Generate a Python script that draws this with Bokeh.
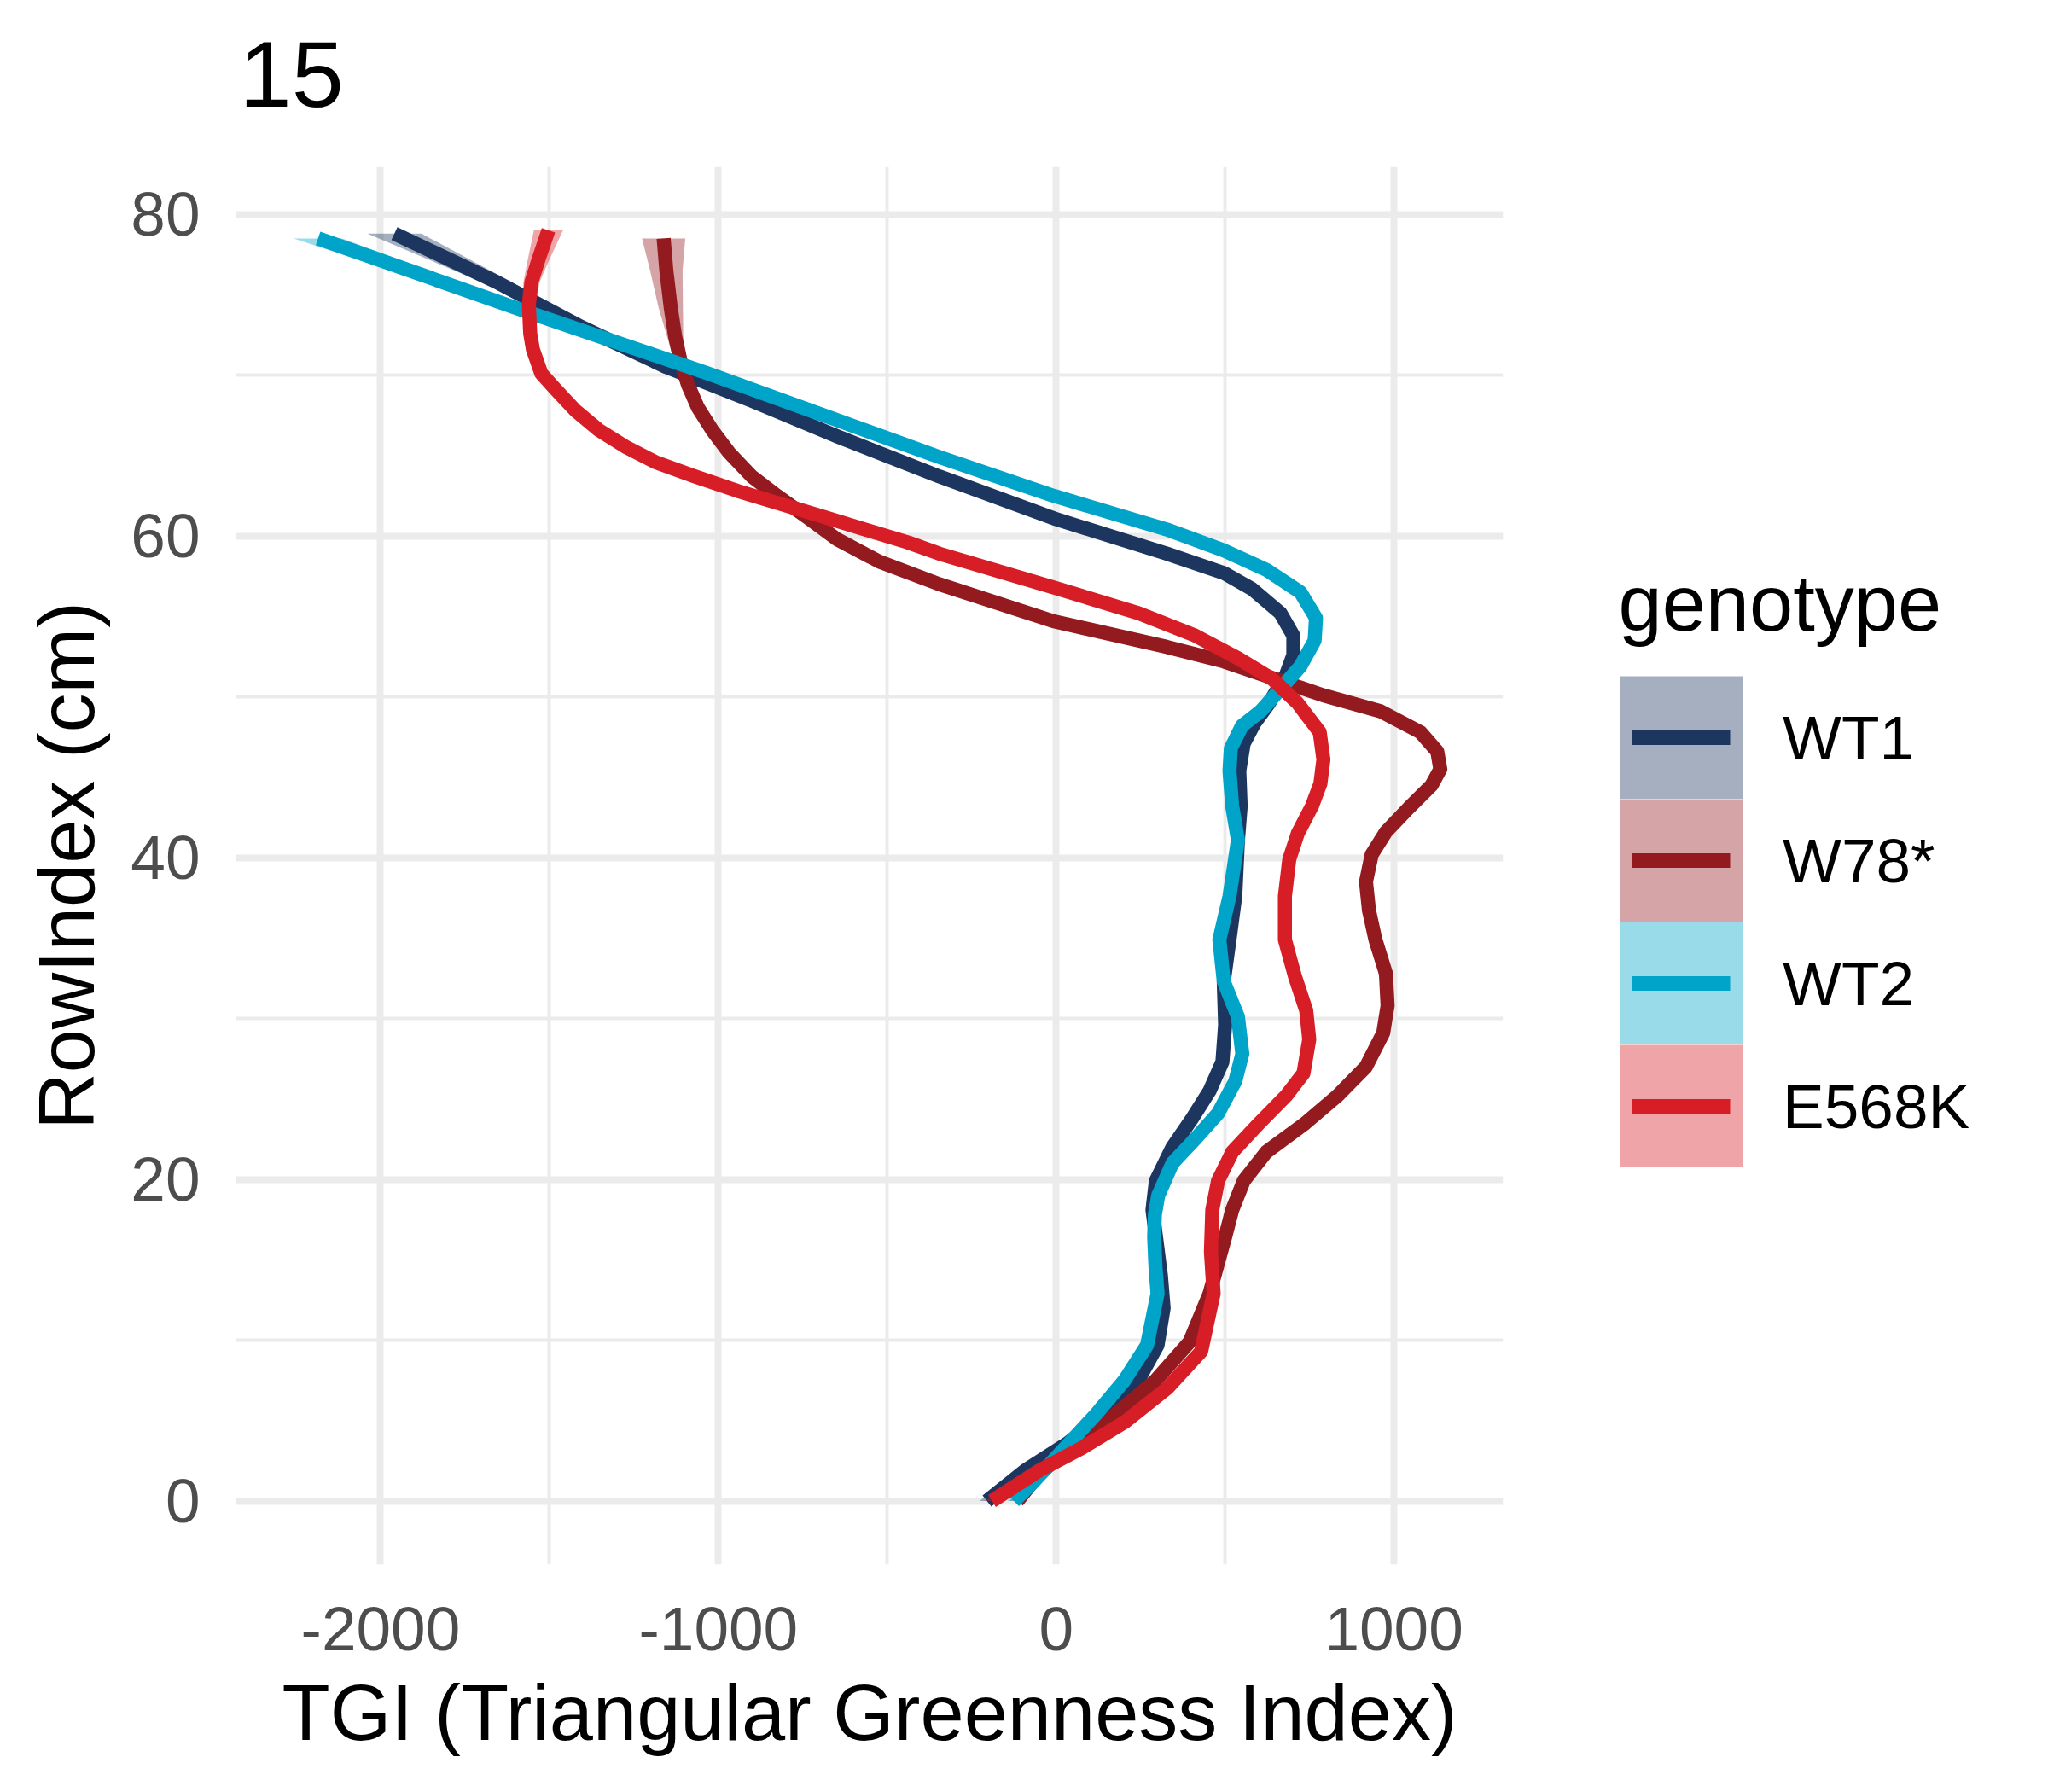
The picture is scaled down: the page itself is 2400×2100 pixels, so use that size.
from bokeh.plotting import figure
from bokeh.layouts import column, row
from bokeh.models import FixedTicker, Legend, LegendItem, Label, Range1d
from bokeh.embed import file_html
from bokeh.resources import INLINE

FONT = "Liberation Sans"

genotypes = ["WT1", "W78*", "WT2", "E568K"]
line_colors = ["#1C365F", "#931B20", "#00A4C9", "#D71E26"]
key_fills = ["#A5AFBF", "#D4A4A6", "#99DBE9", "#EFA5A8"]

# smoothed TGI per RowIndex (cm)
wt1_y = [0, 1.9, 3.6, 5.4, 7.2, 9.7, 12.0, 14.0, 16.0, 18.1, 19.9, 22.0, 23.8,
         25.5, 27.3, 29.6, 32.3, 34.9, 37.6, 41.1, 43.2, 45.4, 47.1, 48.4, 49.6,
         51.4, 52.6, 53.8, 55.2, 56.7, 57.7, 58.9, 61.1, 63.7, 66.2, 68.4, 70.5,
         73.0, 75.8, 78.8]
wt1_x = [-205, -92, 34, 143, 235, 300, 318, 310, 298, 285, 295, 344, 403,
         454, 492, 500, 496, 513, 530, 538, 546, 542, 555, 588, 630,
         681, 702, 702, 664, 580, 496, 328, -8, -346, -649, -901, -1154,
         -1406, -1658, -1959]
wt1_se = [22, 16, 12, 10, 9, 9, 9, 9, 9, 9, 9, 9, 9,
          9, 9, 9, 9, 9, 9, 9, 9, 9, 9, 9, 9,
          9, 9, 9, 9, 9, 9, 9, 10, 11, 12, 14, 17,
          26, 45, 80]

w78_y = [0, 1.7, 3.6, 5.4, 7.5, 9.9, 12.9, 16.4, 18.1, 19.9, 21.7, 23.4, 25.2,
         27.0, 29.1, 30.8, 32.8, 34.9, 36.7, 38.5, 40.2, 41.6, 43.1, 44.5, 45.5,
         46.6, 47.8, 49.1, 50.1, 51.0, 52.2, 53.1, 54.7, 57.0, 58.4, 59.8, 61.1,
         62.5, 63.7, 65.2, 66.6, 68.0, 69.4, 70.8, 72.4, 74.2, 76.5, 78.5]
w78_x = [-115, -50, 59, 176, 294, 395, 454, 500, 521, 555, 622, 732, 833,
         917, 968, 981, 976, 945, 926, 917, 934, 976, 1044, 1111, 1137,
         1128, 1078, 960, 790, 664, 496, 328, -8, -346, -523, -649, -733,
         -826, -901, -969, -1019, -1061, -1090, -1111, -1128, -1141, -1154, -1162]
w78_se = [22, 16, 12, 10, 9, 9, 9, 9, 9, 9, 9, 9, 9,
          9, 9, 9, 9, 9, 9, 9, 9, 9, 9, 9, 9,
          9, 9, 9, 9, 9, 9, 9, 9, 9, 9, 9, 9,
          10, 11, 12, 13, 14, 15, 18, 24, 36, 48, 64]

wt2_y = [0, 1.2, 3.1, 5.4, 7.5, 9.7, 12.9, 14.5, 16.4, 17.8, 19.0, 21.0, 22.5,
         24.1, 26.1, 27.8, 30.1, 32.3, 34.9, 37.6, 41.1, 43.2, 45.4, 46.8, 48.2,
         49.1, 50.5, 51.9, 53.5, 54.9, 56.5, 57.9, 59.1, 60.4, 62.5, 64.9, 70.1,
         74.0, 78.5]
wt2_x = [-125, -67, 17, 118, 202, 269, 300, 294, 290, 292, 302, 344, 411,
         479, 530, 551, 538, 496, 483, 513, 538, 521, 513, 517, 550,
         605, 664, 723, 765, 769, 723, 622, 496, 328, -8, -345, -1030,
         -1575, -2185]
wt2_se = [20, 16, 12, 10, 9, 9, 9, 9, 9, 9, 9, 9, 9,
          9, 9, 9, 9, 9, 9, 9, 9, 9, 9, 9, 9,
          9, 9, 9, 9, 9, 9, 9, 10, 11, 12, 14, 18,
          35, 72]

e568k_y = [0, 1.9, 3.3, 4.9, 7.0, 9.3, 12.9, 15.5, 18.1, 19.9, 21.7, 23.4, 25.2,
           26.6, 28.7, 30.5, 32.6, 34.9, 37.6, 39.9, 41.5, 43.2, 44.6, 46.1, 47.8,
           49.6, 51.1, 52.4, 53.8, 55.2, 56.8, 58.9, 59.6, 60.4, 61.2, 62.0, 62.8,
           63.7, 64.6, 65.5, 66.6, 67.8, 69.1, 70.1, 71.6, 72.6, 74.4, 75.8, 77.2, 79.0]
e568k_x = [-190, -50, 76, 202, 328, 429, 466, 458, 462, 479, 521, 597, 681,
           732, 749, 740, 707, 677, 677, 690, 715, 757, 782, 791, 780,
           715, 640, 538, 412, 244, -8, -346, -439, -565, -691, -817, -943,
           -1069, -1187, -1271, -1355, -1423, -1481, -1524, -1549, -1557, -1561, -1553, -1532, -1503]
e568k_se = [22, 16, 12, 10, 9, 9, 9, 9, 9, 9, 9, 9, 9,
            9, 9, 9, 9, 9, 9, 9, 9, 9, 9, 9, 9,
            9, 9, 9, 9, 9, 9, 9, 9, 9, 9, 9, 9,
            9, 9, 9, 10, 11, 12, 13, 14, 16, 20, 24, 32, 43]

x_ticks = [-2000, -1000, 0, 1000]
x_minor = [-1500, -500, 500]
y_ticks = [0, 20, 40, 60, 80]
y_minor = [10, 30, 50, 70]

series = [(wt1_x, wt1_y, wt1_se), (w78_x, w78_y, w78_se),
          (wt2_x, wt2_y, wt2_se), (e568k_x, e568k_y, e568k_se)]

# title strip
p0 = figure(width=2384, height=195, x_range=Range1d(0, 1), y_range=Range1d(0, 1),
            x_axis_location=None, y_axis_location=None, min_border=0, title=None,
            toolbar_location=None, output_backend="svg")
p0.outline_line_color = None
p0.xgrid.visible = False
p0.ygrid.visible = False
p0.add_layout(Label(x=280, y=109, x_units="screen", y_units="screen", text="15",
                    text_font=FONT, text_font_size="110px", text_color="black",
                    text_baseline="alphabetic", text_align="left"))

# main panel
p = figure(width=1808, height=1889, output_backend="svg", toolbar_location=None, title=None,
           x_range=Range1d(-2428, 1323), y_range=Range1d(-3.95, 82.95),
           min_border_left=276, min_border_right=47,
           min_border_top=0, min_border_bottom=251)
p.outline_line_color = None
p.background_fill_color = "white"

p.xaxis.ticker = FixedTicker(ticks=x_ticks, minor_ticks=x_minor)
p.yaxis.ticker = FixedTicker(ticks=y_ticks, minor_ticks=y_minor)
p.xaxis.major_label_overrides = {t: str(t) for t in x_ticks}
p.xaxis.axis_label = "TGI (Triangular Greenness Index)"
p.yaxis.axis_label = "RowIndex (cm)"
for ax in (p.xaxis, p.yaxis):
    ax.axis_line_color = None
    ax.major_tick_line_color = None
    ax.minor_tick_line_color = None
    ax.major_tick_in = 0
    ax.major_tick_out = 0
    ax.minor_tick_in = 0
    ax.minor_tick_out = 0
    ax.major_label_text_font = FONT
    ax.major_label_text_font_size = "73px"
    ax.major_label_text_color = "#4D4D4D"
    ax.axis_label_text_font = FONT
    ax.axis_label_text_font_size = "92px"
    ax.axis_label_text_font_style = "normal"
    ax.axis_label_text_color = "black"
p.xaxis.major_label_standoff = 50
p.xaxis.axis_label_standoff = 19
p.yaxis.major_label_standoff = 42
p.yaxis.axis_label_standoff = 21

for g in (p.xgrid, p.ygrid):
    g.grid_line_color = "#EBEBEB"
    g.grid_line_width = 8
    g.minor_grid_line_color = "#EBEBEB"
    g.minor_grid_line_width = 4

# legend strip
p2 = figure(width=576, height=1889, x_range=p.x_range, y_range=p.y_range,
            x_axis_location=None, y_axis_location=None, min_border=0, title=None,
            toolbar_location=None, output_backend="svg")
p2.outline_line_color = None
p2.xgrid.visible = False
p2.ygrid.visible = False

items = []
for name, col, kf, (xs, ys, se) in zip(genotypes, line_colors, key_fills, series):
    lo = [x - s for x, s in zip(xs, se)]
    hi = [x + s for x, s in zip(xs, se)]
    p.harea(x1=lo, x2=hi, y=ys, fill_color=col, fill_alpha=0.4)
    p.line(x=xs, y=ys, line_color=col, line_width=16.5, line_join="round", line_cap="butt")
    # legend keys: ribbon-coloured square with the line across it
    box = p2.scatter(x=xs[:1], y=ys[:1], marker="square", size=58, fill_color=kf,
                     line_color=kf, line_width=86.4, line_join="miter", visible=False)
    key_line = p2.line(x=xs[:2], y=ys[:2], line_color=col, line_width=17,
                       line_dash="0 16 115 1000", visible=False)
    items.append(LegendItem(label=name, renderers=[box, key_line]))

legend = Legend(items=items, location=(88, 465), glyph_width=148, glyph_height=144,
                spacing=0, label_standoff=45, padding=0, margin=0,
                label_text_font=FONT, label_text_font_size="73px", label_text_color="black",
                background_fill_alpha=0, border_line_alpha=0)
p2.add_layout(legend)
p2.add_layout(Label(x=88, y=1127, x_units="screen", y_units="screen", text="genotype",
                    text_font=FONT, text_font_size="92px", text_color="black",
                    text_baseline="alphabetic", text_align="left"))

layout = column(p0, row(p, p2))
open("out.html", "w").write(file_html(layout, INLINE))
